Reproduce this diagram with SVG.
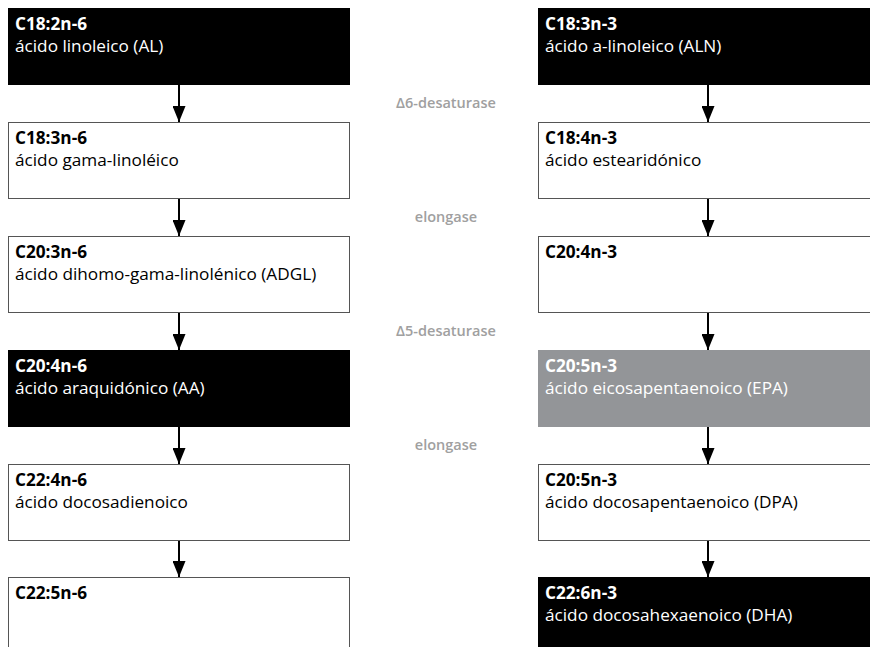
<svg xmlns="http://www.w3.org/2000/svg" width="870" height="647" viewBox="0 0 870 647">
<defs>
<style>
.box{stroke:#555;stroke-width:1}
.w{fill:#fff}
.b{fill:#000;stroke:#000}
.g{fill:#939598;stroke:#939598}
text{font-family:"Open Sans","Noto Sans","Liberation Sans",sans-serif;font-size:17.2px}
.t{font-weight:bold}
.dk{fill:#000}
.lt{fill:#fff}
.enz{fill:#a0a0a0;font-size:14.5px;font-weight:600;text-anchor:middle}
.ln{stroke:#000;stroke-width:2;fill:none}
</style>
<marker id="ah" viewBox="0 0 16 13" refX="16" refY="6.5" markerWidth="8" markerHeight="6.5" markerUnits="strokeWidth" orient="auto">
<path d="M0,0 L16,6.5 L0,13 Z" fill="#000"/>
</marker>
</defs>
<rect width="870" height="647" fill="#fff"/>
<g id="n1"><rect class="box b" x="8.5" y="8.5" width="341" height="76"/><text class="t lt" x="15" y="30">C18:2n-6</text><text class="lt" x="15" y="52">ácido linoleico (AL)</text></g>
<g id="n2"><rect class="box w" x="8.5" y="122.5" width="341" height="76"/><text class="t dk" x="15" y="144">C18:3n-6</text><text class="dk" x="15" y="166">ácido gama-linoléico</text></g>
<g id="n3"><rect class="box w" x="8.5" y="236.5" width="341" height="76"/><text class="t dk" x="15" y="258">C20:3n-6</text><text class="dk" x="15" y="280">ácido dihomo-gama-linolénico (ADGL)</text></g>
<g id="n4"><rect class="box b" x="8.5" y="350.5" width="341" height="76"/><text class="t lt" x="15" y="372">C20:4n-6</text><text class="lt" x="15" y="394">ácido araquidónico (AA)</text></g>
<g id="n5"><rect class="box w" x="8.5" y="464.5" width="341" height="76"/><text class="t dk" x="15" y="486">C22:4n-6</text><text class="dk" x="15" y="508">ácido docosadienoico</text></g>
<g id="n6"><rect class="box w" x="8.5" y="577.5" width="341" height="80"/><text class="t dk" x="15" y="599">C22:5n-6</text></g>
<g id="m1"><rect class="box b" x="538.5" y="8.5" width="340" height="76"/><text class="t lt" x="545" y="30">C18:3n-3</text><text class="lt" x="545" y="52">ácido a-linoleico (ALN)</text></g>
<g id="m2"><rect class="box w" x="538.5" y="122.5" width="340" height="76"/><text class="t dk" x="545" y="144">C18:4n-3</text><text class="dk" x="545" y="166">ácido estearidónico</text></g>
<g id="m3"><rect class="box w" x="538.5" y="236.5" width="340" height="76"/><text class="t dk" x="545" y="258">C20:4n-3</text></g>
<g id="m4"><rect class="box g" x="538.5" y="350.5" width="340" height="76"/><text class="t lt" x="545" y="372">C20:5n-3</text><text class="lt" x="545" y="394">ácido eicosapentaenoico (EPA)</text></g>
<g id="m5"><rect class="box w" x="538.5" y="464.5" width="340" height="76"/><text class="t dk" x="545" y="486">C20:5n-3</text><text class="dk" x="545" y="508">ácido docosapentaenoico (DPA)</text></g>
<g id="m6"><rect class="box b" x="538.5" y="577.5" width="340" height="80"/><text class="t lt" x="545" y="599">C22:6n-3</text><text class="lt" x="545" y="621">ácido docosahexaenoico (DHA)</text></g>
<g id="labels">
<text class="enz" x="446" y="108">Δ6-desaturase</text>
<text class="enz" x="446" y="222">elongase</text>
<text class="enz" x="446" y="336">Δ5-desaturase</text>
<text class="enz" x="446" y="450">elongase</text>
</g>
<g id="connectors">
<line class="ln" x1="179" y1="85" x2="179" y2="122" marker-end="url(#ah)"/>
<line class="ln" x1="179" y1="199" x2="179" y2="236" marker-end="url(#ah)"/>
<line class="ln" x1="179" y1="313" x2="179" y2="350" marker-end="url(#ah)"/>
<line class="ln" x1="179" y1="427" x2="179" y2="464" marker-end="url(#ah)"/>
<line class="ln" x1="179" y1="541" x2="179" y2="577" marker-end="url(#ah)"/>
<line class="ln" x1="708" y1="85" x2="708" y2="122" marker-end="url(#ah)"/>
<line class="ln" x1="708" y1="199" x2="708" y2="236" marker-end="url(#ah)"/>
<line class="ln" x1="708" y1="313" x2="708" y2="350" marker-end="url(#ah)"/>
<line class="ln" x1="708" y1="427" x2="708" y2="464" marker-end="url(#ah)"/>
<line class="ln" x1="708" y1="541" x2="708" y2="577" marker-end="url(#ah)"/>
</g>
</svg>
